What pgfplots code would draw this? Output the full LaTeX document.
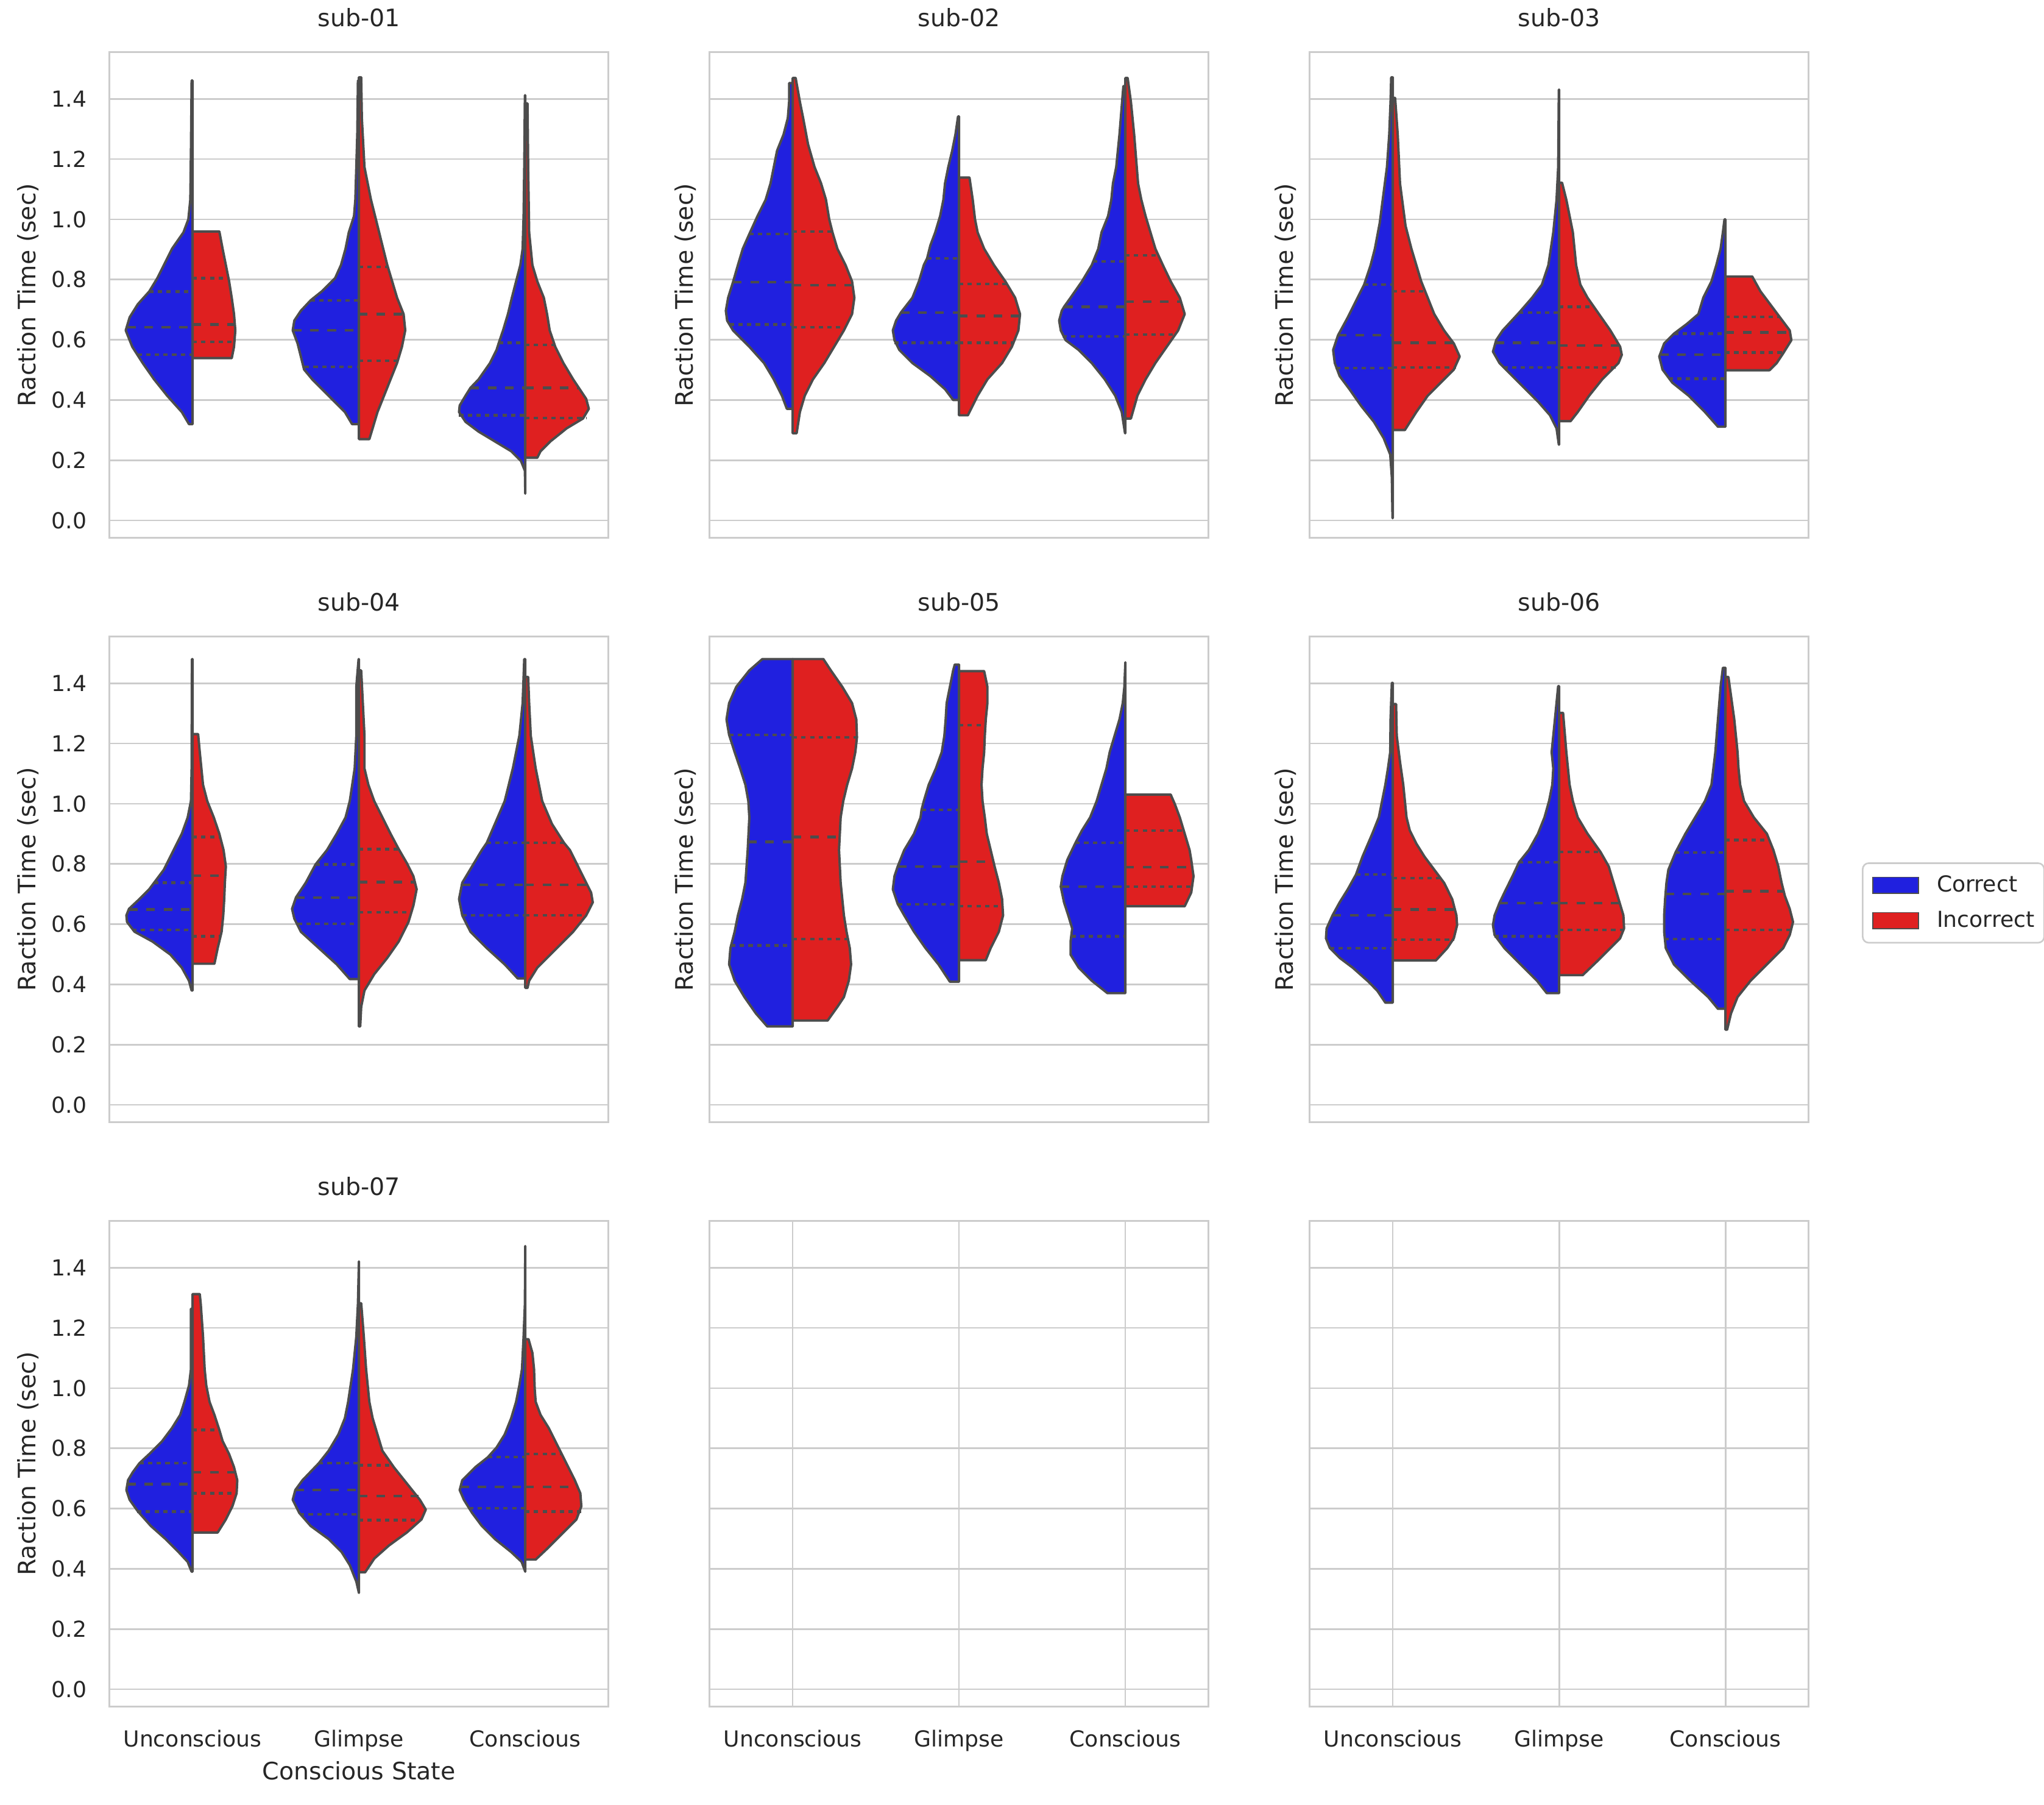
\documentclass[border=0pt]{standalone}
\usepackage{fontspec}
\setmainfont{DejaVu Sans}
\usepackage{pgfplots}
\pgfplotsset{compat=1.18}
\definecolor{cblue}{rgb}{0.125,0.125,0.875}
\definecolor{cred}{rgb}{0.875,0.125,0.125}
\definecolor{lc}{rgb}{0.3,0.3,0.3}
\definecolor{gcol}{rgb}{0.8,0.8,0.8}
\definecolor{tcol}{rgb}{0.15,0.15,0.15}
\newcommand{\hv}[2]{\addplot[fill=#1, draw=lc, line width=1.2pt, line join=round] table[x expr={(\thisrow{x}-18)/510-0.5}, y expr={(\yz-\thisrow{y})/922}, row sep=\\]{y x\\ #2} -- cycle;}
\newcommand{\ql}[4]{\addplot[draw=lc, line width=1.3pt, #1] table[x expr={(\thisrow{x}-18)/510-0.5}, y expr={(\yz-\thisrow{y})/922}, row sep=\\]{y x\\ #2 #3\\ #2 #4\\};}
\tikzset{qd/.style={dash pattern=on 2.16pt off 2.16pt}, md/.style={dash pattern=on 4.32pt off 4.32pt}}
\pgfplotsset{
  vbase/.style={
    scale only axis, width=248.98pt, height=242.29pt, anchor=north west,
    xmin=-0.5, xmax=2.5, ymin=-0.058, ymax=1.555,
    axis line style={draw=gcol, line width=1pt},
    ymajorgrids, grid style={draw=gcol, line width=0.8pt},
    major tick length=0pt, tick style={draw=none},
    xtick={0,1,2}, ytick={0,0.2,0.4,0.6,0.8,1.0,1.2,1.4},
    xticklabels={}, yticklabels={},
    tick label style={font=\fontsize{11}{13.2}\selectfont, text=tcol},
    yticklabel style={anchor=east, inner sep=0pt, xshift=-11.1pt},
    xticklabel style={anchor=base, inner sep=0pt, yshift=-20pt},
    title style={at={(axis description cs:0.5,1)}, anchor=base, inner sep=0pt, yshift=6.75pt, font=\fontsize{12}{14.4}\selectfont, text=tcol},
    label style={font=\fontsize{12}{14.4}\selectfont, text=tcol},
  },
  yla/.style={ylabel={Raction Time (sec)}, ylabel style={at={([xshift=-36.7pt]axis description cs:0,0.5)}, anchor=base, inner sep=0pt}},
  ylb/.style={ylabel={Raction Time (sec)}, ylabel style={at={([xshift=-8.15pt]axis description cs:0,0.5)}, anchor=base, inner sep=0pt}},
  showy/.style={yticklabels={0.0,0.2,0.4,0.6,0.8,1.0,1.2,1.4}},
  showx/.style={xticklabels={Unconscious,Glimpse,Conscious}},
}
\begin{document}
\begin{tikzpicture}
\path[use as bounding box] (0,0) rectangle (1019.9pt,-900.4pt);
% ---------------- sub-01
\def\yz{1482}
\begin{axis}[vbase, at={(54.60pt,-26.05pt)}, title={sub-01}, yla, showy]
\hv{cblue}{1187 273\\ 1187 262\\ 1150 240\\ 1100 195\\ 1050 155\\ 1000 120\\ 950 88\\ 900 68\\ 860 80\\ 820 105\\ 781 140\\ 740 165\\ 700 185\\ 650 210\\ 600 245\\ 560 260\\ 500 266\\ 350 268\\ 135 270\\ 135 273\\}
\ql{qd}{781}{140}{273}\ql{md}{890}{72}{273}\ql{qd}{975}{104}{273}
\hv{cred}{985 273\\ 985 393\\ 950 400\\ 900 404\\ 850 400\\ 800 393\\ 750 385\\ 700 375\\ 650 365\\ 597 355\\ 597 273\\}
\ql{qd}{740}{273}{383}\ql{md}{882}{273}{403}\ql{qd}{935}{273}{401}
\hv{cblue}{1187 783\\ 1187 762\\ 1150 740\\ 1100 690\\ 1050 640\\ 1020 615\\ 980 605\\ 940 595\\ 900 580\\ 870 585\\ 840 605\\ 808 635\\ 780 670\\ 740 710\\ 700 728\\ 650 742\\ 600 752\\ 550 768\\ 500 772\\ 400 775\\ 300 778\\ 135 780\\ 135 783\\}
\ql{qd}{808}{635}{783}\ql{md}{900}{580}{783}\ql{qd}{1012}{617}{783}
\hv{cred}{1233 783\\ 1233 815\\ 1200 825\\ 1150 840\\ 1100 860\\ 1050 880\\ 1000 900\\ 950 915\\ 900 925\\ 850 920\\ 800 900\\ 700 870\\ 600 845\\ 500 820\\ 400 800\\ 250 792\\ 125 790\\ 125 783\\}
\ql{qd}{706}{783}{871}\ql{md}{850}{783}{920}\ql{qd}{993}{783}{902}
\hv{cblue}{1400 1293\\ 1330 1292\\ 1300 1280\\ 1270 1250\\ 1240 1200\\ 1210 1150\\ 1180 1110\\ 1150 1090\\ 1130 1092\\ 1100 1110\\ 1076 1125\\ 1050 1150\\ 1000 1185\\ 960 1205\\ 938 1212\\ 900 1225\\ 850 1240\\ 800 1252\\ 750 1265\\ 700 1278\\ 650 1285\\ 550 1288\\ 400 1290\\ 180 1292\\ 180 1293\\}
\ql{qd}{938}{1212}{1293}\ql{md}{1076}{1125}{1293}\ql{qd}{1160}{1090}{1293}
\hv{cred}{1290 1293\\ 1290 1330\\ 1270 1340\\ 1240 1370\\ 1200 1420\\ 1170 1470\\ 1140 1488\\ 1110 1480\\ 1080 1460\\ 1050 1440\\ 1000 1410\\ 950 1385\\ 900 1368\\ 850 1360\\ 800 1350\\ 750 1330\\ 700 1315\\ 600 1305\\ 400 1302\\ 205 1300\\ 205 1293\\}
\ql{qd}{945}{1293}{1383}\ql{md}{1076}{1293}{1458}\ql{qd}{1168}{1293}{1480}
\end{axis}
% ---------------- sub-02
\begin{axis}[vbase, at={(354.04pt,-26.05pt)}, title={sub-02}, ylb]
\hv{cblue}{1140 273\\ 1140 255\\ 1100 240\\ 1050 215\\ 1000 185\\ 950 140\\ 900 90\\ 870 72\\ 840 68\\ 800 75\\ 752 90\\ 700 105\\ 650 120\\ 605 140\\ 550 165\\ 500 190\\ 450 205\\ 400 215\\ 350 225\\ 300 245\\ 250 258\\ 200 262\\ 143 262\\ 143 273\\}
\ql{qd}{605}{140}{273}\ql{md}{752}{90}{273}\ql{qd}{882}{80}{273}
\hv{cred}{1215 273\\ 1215 285\\ 1150 295\\ 1100 310\\ 1050 335\\ 1000 370\\ 950 400\\ 900 430\\ 850 455\\ 800 462\\ 750 455\\ 700 435\\ 650 410\\ 600 395\\ 560 385\\ 500 375\\ 450 360\\ 400 340\\ 330 320\\ 250 305\\ 200 295\\ 127 282\\ 127 273\\}
\ql{qd}{597}{273}{394}\ql{md}{762}{273}{457}\ql{qd}{890}{273}{435}
\hv{cblue}{1113 783\\ 1113 765\\ 1080 740\\ 1040 695\\ 1000 640\\ 960 600\\ 930 585\\ 900 580\\ 870 590\\ 845 605\\ 800 640\\ 750 660\\ 700 675\\ 680 685\\ 640 695\\ 600 710\\ 550 725\\ 500 735\\ 450 740\\ 400 750\\ 350 762\\ 300 772\\ 245 780\\ 245 783\\}
\ql{qd}{680}{685}{783}\ql{md}{846}{604}{783}\ql{qd}{938}{584}{783}
\hv{cred}{1160 783\\ 1160 810\\ 1100 840\\ 1050 870\\ 1000 915\\ 950 945\\ 900 965\\ 850 970\\ 800 955\\ 750 925\\ 700 890\\ 650 860\\ 600 840\\ 560 832\\ 500 825\\ 432 815\\ 432 783\\}
\ql{qd}{758}{783}{930}\ql{md}{856}{783}{970}\ql{qd}{938}{783}{953}
\hv{cblue}{1215 1293\\ 1215 1292\\ 1150 1282\\ 1100 1262\\ 1050 1230\\ 1000 1190\\ 960 1150\\ 930 1110\\ 900 1095\\ 870 1090\\ 840 1098\\ 828 1105\\ 800 1125\\ 750 1160\\ 700 1190\\ 650 1210\\ 600 1220\\ 550 1240\\ 500 1250\\ 450 1255\\ 400 1265\\ 300 1275\\ 200 1283\\ 152 1287\\ 152 1293\\}
\ql{qd}{689}{1194}{1293}\ql{md}{828}{1105}{1293}\ql{qd}{918}{1100}{1293}
\hv{cred}{1170 1293\\ 1170 1310\\ 1100 1330\\ 1050 1355\\ 1000 1385\\ 950 1420\\ 900 1455\\ 850 1475\\ 800 1460\\ 750 1432\\ 700 1408\\ 650 1385\\ 600 1370\\ 550 1355\\ 500 1342\\ 450 1332\\ 400 1328\\ 300 1320\\ 200 1310\\ 127 1300\\ 127 1293\\}
\ql{qd}{670}{1293}{1394}\ql{md}{812}{1293}{1463}\ql{qd}{913}{1293}{1446}
\end{axis}
% ---------------- sub-03
\begin{axis}[vbase, at={(653.48pt,-26.05pt)}, title={sub-03}, ylb]
\hv{cblue}{1475 273\\ 1475 272\\ 1350 270\\ 1280 265\\ 1230 245\\ 1180 215\\ 1130 175\\ 1080 140\\ 1040 110\\ 1000 95\\ 960 90\\ 915 105\\ 860 135\\ 800 165\\ 760 185\\ 700 205\\ 650 218\\ 570 233\\ 500 242\\ 400 255\\ 300 262\\ 200 266\\ 125 268\\ 125 273\\}
\ql{qd}{760}{185}{273}\ql{md}{915}{105}{273}\ql{qd}{1015}{98}{273}
\hv{cred}{1205 273\\ 1205 310\\ 1150 345\\ 1100 380\\ 1060 420\\ 1020 460\\ 980 478\\ 940 460\\ 900 430\\ 850 400\\ 800 380\\ 750 360\\ 700 345\\ 650 330\\ 580 312\\ 450 295\\ 300 288\\ 188 280\\ 188 273\\}
\ql{qd}{780}{273}{372}\ql{md}{938}{273}{458}\ql{qd}{1013}{273}{467}
\hv{cblue}{1250 783\\ 1250 782\\ 1200 775\\ 1160 755\\ 1120 720\\ 1080 680\\ 1040 640\\ 1000 600\\ 965 580\\ 930 590\\ 900 610\\ 846 660\\ 800 700\\ 760 730\\ 700 750\\ 600 765\\ 500 775\\ 400 780\\ 163 782\\ 163 783\\}
\ql{qd}{846}{660}{783}\ql{md}{938}{588}{783}\ql{qd}{1013}{612}{783}
\hv{cred}{1178 783\\ 1178 818\\ 1150 840\\ 1100 875\\ 1050 915\\ 1000 965\\ 975 975\\ 950 970\\ 900 940\\ 850 905\\ 800 870\\ 760 848\\ 700 835\\ 600 825\\ 500 805\\ 448 792\\ 448 783\\}
\ql{qd}{828}{783}{889}\ql{md}{947}{783}{969}\ql{qd}{1013}{783}{956}
\hv{cblue}{1195 1293\\ 1195 1270\\ 1150 1230\\ 1100 1180\\ 1060 1130\\ 1020 1100\\ 980 1090\\ 940 1105\\ 910 1135\\ 880 1175\\ 850 1210\\ 800 1225\\ 750 1250\\ 700 1265\\ 650 1278\\ 600 1285\\ 560 1290\\ 560 1293\\}
\ql{qd}{910}{1135}{1293}\ql{md}{975}{1092}{1293}\ql{qd}{1048}{1118}{1293}
\hv{cred}{1022 1293\\ 1022 1428\\ 1000 1450\\ 970 1470\\ 930 1495\\ 900 1490\\ 860 1460\\ 820 1430\\ 780 1400\\ 735 1375\\ 735 1293\\}
\ql{qd}{858}{1293}{1460}\ql{md}{906}{1293}{1491}\ql{qd}{968}{1293}{1472}
\end{axis}
% ---------------- sub-04
\def\yz{1480}
\begin{axis}[vbase, at={(54.60pt,-317.56pt)}, title={sub-04}, yla, showy]
\hv{cblue}{1130 273\\ 1130 270\\ 1100 262\\ 1060 240\\ 1020 205\\ 980 150\\ 950 95\\ 920 72\\ 900 70\\ 880 78\\ 850 110\\ 820 140\\ 800 155\\ 760 185\\ 700 215\\ 650 240\\ 600 258\\ 550 268\\ 450 270\\ 115 271\\ 115 273\\}
\ql{qd}{800}{155}{273}\ql{md}{882}{78}{273}\ql{qd}{944}{88}{273}
\hv{cred}{1048 273\\ 1048 340\\ 1000 350\\ 950 362\\ 900 367\\ 850 370\\ 800 372\\ 750 375\\ 700 368\\ 650 355\\ 600 338\\ 550 318\\ 500 305\\ 400 295\\ 345 290\\ 345 273\\}
\ql{qd}{660}{273}{358}\ql{md}{778}{273}{374}\ql{qd}{964}{273}{360}
\hv{cblue}{1095 783\\ 1095 755\\ 1050 715\\ 1000 660\\ 950 605\\ 910 585\\ 880 578\\ 845 590\\ 800 620\\ 744 650\\ 700 685\\ 650 715\\ 600 742\\ 550 755\\ 450 770\\ 350 775\\ 200 775\\ 115 782\\ 115 783\\}
\ql{qd}{744}{650}{783}\ql{md}{845}{590}{783}\ql{qd}{926}{596}{783}
\hv{cred}{1240 783\\ 1240 787\\ 1180 790\\ 1130 800\\ 1080 830\\ 1030 870\\ 980 905\\ 920 935\\ 870 950\\ 820 960\\ 780 950\\ 740 930\\ 697 905\\ 650 880\\ 600 855\\ 550 830\\ 500 812\\ 450 800\\ 350 800\\ 250 795\\ 150 790\\ 150 783\\}
\ql{qd}{697}{783}{905}\ql{md}{798}{783}{955}\ql{qd}{890}{783}{945}
\hv{cblue}{1093 1293\\ 1093 1270\\ 1050 1230\\ 1000 1175\\ 950 1125\\ 900 1100\\ 850 1090\\ 800 1100\\ 750 1130\\ 700 1160\\ 678 1175\\ 620 1200\\ 550 1230\\ 450 1255\\ 350 1275\\ 250 1285\\ 115 1290\\ 115 1293\\}
\ql{qd}{678}{1175}{1293}\ql{md}{807}{1099}{1293}\ql{qd}{900}{1100}{1293}
\hv{cred}{1122 1293\\ 1122 1300\\ 1100 1305\\ 1060 1330\\ 1000 1390\\ 950 1440\\ 900 1480\\ 860 1500\\ 830 1495\\ 800 1480\\ 750 1455\\ 700 1430\\ 678 1412\\ 620 1375\\ 550 1345\\ 450 1325\\ 350 1310\\ 250 1305\\ 170 1302\\ 170 1293\\}
\ql{qd}{678}{1293}{1412}\ql{md}{807}{1293}{1482}\ql{qd}{900}{1293}{1480}
\end{axis}
% ---------------- sub-05
\begin{axis}[vbase, at={(354.04pt,-317.56pt)}, title={sub-05}, ylb]
\hv{cblue}{1240 273\\ 1240 195\\ 1200 160\\ 1150 125\\ 1100 95\\ 1050 78\\ 1000 82\\ 950 95\\ 900 105\\ 850 118\\ 800 128\\ 700 135\\ 600 140\\ 550 137\\ 500 128\\ 450 112\\ 400 95\\ 347 78\\ 300 70\\ 250 78\\ 200 100\\ 150 140\\ 115 180\\ 115 273\\}
\ql{qd}{347}{78}{273}\ql{md}{675}{136}{273}\ql{qd}{992}{84}{273}
\hv{cred}{1222 273\\ 1222 380\\ 1180 410\\ 1150 430\\ 1100 445\\ 1050 452\\ 1000 448\\ 950 438\\ 900 430\\ 850 425\\ 800 420\\ 700 415\\ 600 420\\ 550 428\\ 500 440\\ 450 455\\ 400 465\\ 355 470\\ 300 468\\ 250 455\\ 200 425\\ 150 390\\ 115 367\\ 115 273\\}
\ql{qd}{355}{273}{470}\ql{md}{660}{273}{417}\ql{qd}{972}{273}{443}
\hv{cblue}{1103 783\\ 1103 755\\ 1050 720\\ 1000 680\\ 950 645\\ 900 615\\ 865 595\\ 820 580\\ 780 585\\ 750 595\\ 700 615\\ 650 645\\ 600 665\\ 577 668\\ 550 675\\ 500 690\\ 450 712\\ 400 730\\ 350 738\\ 300 742\\ 250 745\\ 200 755\\ 150 765\\ 132 770\\ 132 783\\}
\ql{qd}{577}{668}{783}\ql{md}{750}{595}{783}\ql{qd}{866}{595}{783}
\hv{cred}{1037 783\\ 1037 865\\ 1000 880\\ 950 905\\ 900 918\\ 850 915\\ 800 905\\ 750 892\\ 700 880\\ 650 868\\ 600 862\\ 550 855\\ 500 852\\ 450 855\\ 400 860\\ 350 862\\ 300 865\\ 250 870\\ 200 870\\ 152 860\\ 152 783\\}
\ql{qd}{318}{783}{864}\ql{md}{735}{783}{888}\ql{qd}{872}{783}{917}
\hv{cblue}{1138 1293\\ 1138 1238\\ 1100 1190\\ 1060 1150\\ 1020 1125\\ 980 1125\\ 940 1130\\ 900 1118\\ 860 1105\\ 812 1095\\ 780 1100\\ 730 1115\\ 678 1140\\ 640 1160\\ 600 1185\\ 550 1205\\ 500 1220\\ 450 1235\\ 400 1245\\ 350 1260\\ 300 1275\\ 250 1285\\ 200 1290\\ 125 1293\\}
\ql{qd}{678}{1140}{1293}\ql{md}{812}{1095}{1293}\ql{qd}{964}{1128}{1293}
\hv{cred}{872 1293\\ 872 1475\\ 830 1495\\ 780 1502\\ 730 1495\\ 700 1490\\ 650 1475\\ 600 1460\\ 560 1445\\ 530 1432\\ 530 1293\\}
\ql{qd}{640}{1293}{1472}\ql{md}{752}{1293}{1497}\ql{qd}{812}{1293}{1500}
\end{axis}
% ---------------- sub-06
\begin{axis}[vbase, at={(653.48pt,-317.56pt)}, title={sub-06}, ylb,
  legend image code/.code={\draw[#1, sharp corners, line width=0.5pt] (0pt,-4.05pt) rectangle (22.7pt,4.05pt);},
  legend style={at={(axis description cs:1.1067,0.4516)}, anchor=west, draw=gcol, line width=0.8pt, rounded corners=3pt, fill=white, inner xsep=4.8pt, inner ysep=6.2pt, row sep=8.1pt, column sep=9pt, nodes={inner sep=0pt, anchor=west, font=\fontsize{11}{13.2}\selectfont, text=tcol}},
  legend cell align=left]
\addlegendimage{fill=cblue, draw=lc}
\addlegendentry{Correct}
\addlegendimage{fill=cred, draw=lc}
\addlegendentry{Incorrect}
\hv{cblue}{1167 273\\ 1167 250\\ 1130 225\\ 1100 195\\ 1060 150\\ 1030 110\\ 1000 80\\ 970 68\\ 940 70\\ 900 88\\ 860 110\\ 820 135\\ 775 160\\ 720 180\\ 650 210\\ 600 230\\ 550 240\\ 500 250\\ 450 258\\ 400 265\\ 300 266\\ 188 270\\ 188 273\\}
\ql{qd}{775}{160}{273}\ql{md}{900}{88}{273}\ql{qd}{1000}{80}{273}
\hv{cred}{1038 273\\ 1038 405\\ 1000 440\\ 970 460\\ 930 470\\ 900 468\\ 850 455\\ 800 430\\ 760 400\\ 720 370\\ 680 345\\ 640 325\\ 600 315\\ 550 310\\ 500 305\\ 430 295\\ 350 285\\ 253 283\\ 253 273\\}
\ql{qd}{786}{273}{420}\ql{md}{882}{273}{463}\ql{qd}{974}{273}{459}
\hv{cblue}{1138 783\\ 1138 745\\ 1100 715\\ 1050 665\\ 1000 615\\ 960 585\\ 930 580\\ 900 585\\ 862 600\\ 820 620\\ 780 640\\ 737 660\\ 700 690\\ 650 718\\ 600 738\\ 550 752\\ 500 762\\ 450 765\\ 400 760\\ 350 765\\ 300 770\\ 198 780\\ 198 783\\}
\ql{qd}{737}{660}{783}\ql{md}{862}{600}{783}\ql{qd}{964}{584}{783}
\hv{cred}{1083 783\\ 1083 855\\ 1040 900\\ 1000 940\\ 970 970\\ 940 982\\ 900 980\\ 850 965\\ 800 950\\ 750 935\\ 706 910\\ 650 870\\ 600 840\\ 550 825\\ 500 815\\ 400 805\\ 280 795\\ 280 783\\}
\ql{qd}{706}{783}{910}\ql{md}{862}{783}{969}\ql{qd}{944}{783}{982}
\hv{cblue}{1186 1293\\ 1186 1270\\ 1150 1240\\ 1100 1185\\ 1050 1135\\ 1000 1110\\ 950 1105\\ 900 1105\\ 850 1108\\ 800 1112\\ 760 1118\\ 707 1140\\ 650 1170\\ 600 1200\\ 550 1230\\ 500 1250\\ 400 1262\\ 300 1270\\ 200 1278\\ 142 1285\\ 142 1293\\}
\ql{qd}{707}{1140}{1293}\ql{md}{834}{1109}{1293}\ql{qd}{972}{1105}{1293}
\hv{cred}{1250 1293\\ 1250 1298\\ 1200 1310\\ 1150 1330\\ 1100 1370\\ 1050 1420\\ 1000 1470\\ 960 1490\\ 920 1500\\ 880 1490\\ 840 1475\\ 800 1465\\ 750 1455\\ 700 1440\\ 650 1420\\ 600 1380\\ 550 1350\\ 500 1338\\ 450 1333\\ 400 1330\\ 300 1320\\ 170 1302\\ 170 1293\\}
\ql{qd}{669}{1293}{1428}\ql{md}{826}{1293}{1470}\ql{qd}{944}{1293}{1494}
\end{axis}
% ---------------- sub-07
\begin{axis}[vbase, at={(54.60pt,-609.09pt)}, title={sub-07}, yla, showy, showx,
  xlabel={Conscious State}, xlabel style={at={(axis description cs:0.5,0)}, anchor=base, inner sep=0pt, yshift=-36.3pt}]
\hv{cblue}{1120 273\\ 1120 270\\ 1090 258\\ 1060 230\\ 1020 190\\ 980 145\\ 935 105\\ 900 80\\ 870 70\\ 840 75\\ 815 90\\ 788 110\\ 760 140\\ 720 180\\ 680 210\\ 640 235\\ 600 248\\ 550 262\\ 500 268\\ 315 268\\ 315 273\\}
\ql{qd}{788}{110}{273}\ql{md}{852}{72}{273}\ql{qd}{936}{103}{273}
\hv{cred}{1000 273\\ 1000 350\\ 960 375\\ 920 395\\ 880 408\\ 840 410\\ 800 400\\ 760 385\\ 720 365\\ 686 355\\ 640 340\\ 600 325\\ 550 315\\ 500 310\\ 400 305\\ 300 298\\ 270 295\\ 270 273\\}
\ql{qd}{686}{273}{355}\ql{md}{815}{273}{404}\ql{qd}{880}{273}{408}
\hv{cblue}{1185 783\\ 1150 775\\ 1100 755\\ 1060 730\\ 1020 690\\ 980 635\\ 940 600\\ 900 580\\ 870 588\\ 840 610\\ 788 660\\ 750 690\\ 700 720\\ 650 740\\ 600 750\\ 500 765\\ 400 775\\ 300 780\\ 170 783\\}
\ql{qd}{788}{660}{783}\ql{md}{870}{588}{783}\ql{qd}{944}{602}{783}
\hv{cred}{1122 783\\ 1122 802\\ 1080 830\\ 1040 875\\ 1000 930\\ 960 975\\ 930 988\\ 900 970\\ 850 930\\ 800 890\\ 750 855\\ 700 840\\ 650 825\\ 600 815\\ 500 805\\ 400 798\\ 298 790\\ 298 783\\}
\ql{qd}{794}{783}{886}\ql{md}{888}{783}{965}\ql{qd}{962}{783}{972}
\hv{cblue}{1120 1293\\ 1090 1282\\ 1060 1250\\ 1020 1200\\ 980 1160\\ 940 1130\\ 900 1105\\ 870 1092\\ 840 1100\\ 800 1140\\ 770 1178\\ 740 1205\\ 700 1230\\ 650 1250\\ 600 1265\\ 550 1275\\ 500 1283\\ 400 1288\\ 300 1292\\ 123 1293\\}
\ql{qd}{769}{1178}{1293}\ql{md}{860}{1094}{1293}\ql{qd}{926}{1120}{1293}
\hv{cred}{1083 1293\\ 1083 1325\\ 1050 1360\\ 1000 1410\\ 960 1450\\ 920 1465\\ 880 1462\\ 840 1445\\ 800 1425\\ 760 1405\\ 720 1385\\ 680 1365\\ 640 1340\\ 600 1325\\ 560 1322\\ 500 1320\\ 450 1315\\ 408 1303\\ 408 1293\\}
\ql{qd}{760}{1293}{1405}\ql{md}{860}{1293}{1455}\ql{qd}{936}{1293}{1465}
\end{axis}
% ---------------- empty panels
\begin{axis}[vbase, at={(354.04pt,-609.09pt)}, showx, xmajorgrids]
\addplot[draw=none] coordinates {(0,0)};
\end{axis}
\begin{axis}[vbase, at={(653.48pt,-609.09pt)}, showx, xmajorgrids]
\addplot[draw=none] coordinates {(0,0)};
\end{axis}
\end{tikzpicture}
\end{document}
